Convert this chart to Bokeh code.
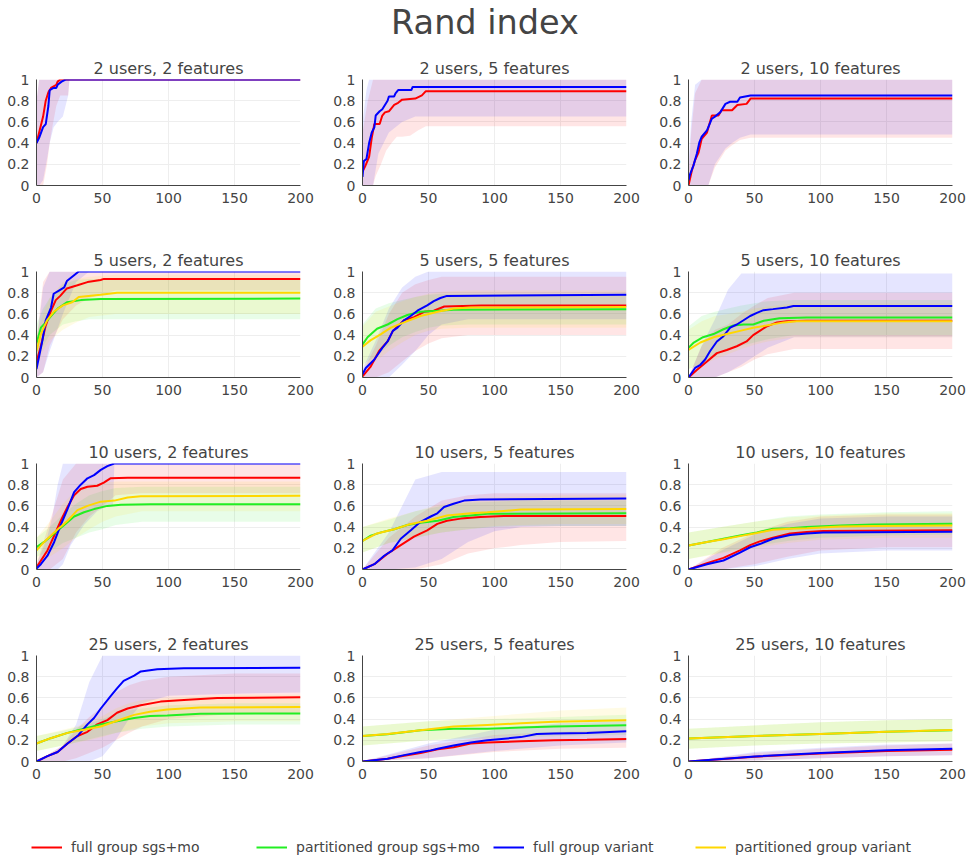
from bokeh.plotting import figure
from bokeh.layouts import column, row
from bokeh.models import Range1d, Legend, LegendItem, FixedTicker, CustomJSTickFormatter
from bokeh.embed import file_html
from bokeh.resources import INLINE
from bokeh.core.properties import value

# ---------------- text / categories ----------------
MAIN_TITLE = "Rand index"
SERIES_NAMES = ["full group sgs+mo", "partitioned group sgs+mo",
                "full group variant", "partitioned group variant"]
SERIES_COLORS = ["#ff0000", "#22ee22", "#0000ff", "#ffd700"]
PANEL_TITLES = ["2 users, 2 features", "2 users, 5 features", "2 users, 10 features",
                "5 users, 2 features", "5 users, 5 features", "5 users, 10 features",
                "10 users, 2 features", "10 users, 5 features", "10 users, 10 features",
                "25 users, 2 features", "25 users, 5 features", "25 users, 10 features"]
X_TICKS = [0, 50, 100, 150, 200]
Y_TICKS = [0, 0.2, 0.4, 0.6, 0.8, 1]

# ---------------- 2 users, 2 features ----------------
u2f2_red_x = [0, 2, 5, 7, 9, 11, 15, 16, 18, 200]
u2f2_red_y = [0.40, 0.50, 0.65, 0.80, 0.88, 0.92, 0.95, 0.98, 1.0, 1.0]
u2f2_red_bx = [0, 2, 5, 8, 10, 12, 15, 18, 22, 24, 25, 200]
u2f2_red_lo = [0.0, 0.0, 0.0, 0.2, 0.4, 0.55, 0.75, 0.85, 0.85, 0.85, 1.0, 1.0]
u2f2_red_hi = [0.8, 1.0, 1.0, 1.0, 1.0, 1.0, 1.0, 1.0, 1.0, 1.0, 1.0, 1.0]
u2f2_blue_x = [0, 2, 5, 7, 9, 10, 13, 15, 16, 19, 22, 200]
u2f2_blue_y = [0.40, 0.45, 0.55, 0.58, 0.75, 0.90, 0.92, 0.92, 0.95, 0.98, 1.0, 1.0]
u2f2_blue_bx = [0, 2, 5, 8, 10, 13, 16, 20, 24, 25, 200]
u2f2_blue_lo = [0.0, 0.0, 0.05, 0.25, 0.4, 0.55, 0.6, 0.65, 0.85, 1.0, 1.0]
u2f2_blue_hi = [0.8, 1.0, 1.0, 1.0, 1.0, 1.0, 1.0, 1.0, 1.0, 1.0, 1.0]

# ---------------- 2 users, 5 features ----------------
u2f5_red_x = [0, 2, 5, 7, 9, 13, 15, 17, 20, 24, 27, 30, 40, 45, 48, 200]
u2f5_red_y = [0.13, 0.18, 0.27, 0.45, 0.58, 0.58, 0.66, 0.69, 0.70, 0.76, 0.78, 0.81, 0.82, 0.85, 0.89, 0.89]
u2f5_red_bx = [0, 4, 8, 10, 14, 18, 22, 26, 30, 36, 42, 48, 50, 200]
u2f5_red_lo = [0.0, 0.0, 0.0, 0.09, 0.2, 0.33, 0.40, 0.46, 0.46, 0.47, 0.52, 0.56, 0.56, 0.56]
u2f5_red_hi = [0.5, 0.8, 1.0, 1.0, 1.0, 1.0, 1.0, 1.0, 1.0, 1.0, 1.0, 1.0, 1.0, 1.0]
u2f5_blue_x = [0, 1, 3, 5, 7, 9, 10, 13, 15, 17, 19, 20, 24, 25, 27, 37, 38, 200]
u2f5_blue_y = [0.08, 0.23, 0.25, 0.40, 0.50, 0.55, 0.66, 0.70, 0.72, 0.76, 0.80, 0.84, 0.84, 0.87, 0.90, 0.90, 0.93, 0.93]
u2f5_blue_bx = [0, 3, 5, 8, 12, 20, 30, 40, 200]
u2f5_blue_lo = [0.0, 0.0, 0.0, 0.0, 0.3, 0.5, 0.6, 0.65, 0.65]
u2f5_blue_hi = [0.6, 0.9, 1.0, 1.0, 1.0, 1.0, 1.0, 1.0, 1.0]

# ---------------- 2 users, 10 features ----------------
u2f10_red_x = [0, 2.5, 5, 7.6, 10, 14, 17.7, 22.7, 25, 33, 37, 44, 47, 200]
u2f10_red_y = [0.0, 0.14, 0.24, 0.31, 0.44, 0.50, 0.66, 0.66, 0.71, 0.71, 0.76, 0.77, 0.82, 0.82]
u2f10_blue_x = [0, 1.3, 3.8, 6.3, 8.3, 10, 14, 17.7, 20, 24, 28, 31.5, 37, 39, 47, 200]
u2f10_blue_y = [0.05, 0.11, 0.19, 0.30, 0.41, 0.46, 0.52, 0.63, 0.65, 0.69, 0.77, 0.79, 0.79, 0.83, 0.85, 0.85]
u2f10_bx = [0, 2, 5, 10, 15, 20, 28, 33, 39, 47, 200]
u2f10_red_lo = [0.0, 0.0, 0.0, 0.0, 0.0, 0.17, 0.33, 0.38, 0.43, 0.45, 0.45]
u2f10_red_hi = [0.1, 0.5, 0.87, 1.0, 1.0, 1.0, 1.0, 1.0, 1.0, 1.0, 1.0]
u2f10_blue_lo = [0.0, 0.0, 0.0, 0.0, 0.0, 0.2, 0.35, 0.40, 0.45, 0.48, 0.48]
u2f10_blue_hi = [0.2, 0.6, 0.95, 1.0, 1.0, 1.0, 1.0, 1.0, 1.0, 1.0, 1.0]

# ---------------- 5 users, 2 features ----------------
u5f2_red_x = [0, 3, 7, 11, 14.6, 18, 23, 31, 38.6, 48.6, 51, 200]
u5f2_red_y = [0.15, 0.28, 0.49, 0.63, 0.73, 0.77, 0.84, 0.87, 0.90, 0.92, 0.93, 0.93]
u5f2_green_x = [0, 3.3, 7, 11, 16, 23, 33.5, 48.6, 200]
u5f2_green_y = [0.32, 0.47, 0.52, 0.58, 0.65, 0.71, 0.73, 0.74, 0.745]
u5f2_blue_x = [0, 4.5, 7, 11, 13, 17, 21, 23, 28, 32, 200]
u5f2_blue_y = [0.08, 0.35, 0.54, 0.66, 0.79, 0.82, 0.85, 0.91, 0.96, 1.0, 1.0]
u5f2_yellow_x = [0, 3.3, 8, 13, 20, 27, 32, 48.6, 61, 200]
u5f2_yellow_y = [0.25, 0.41, 0.54, 0.62, 0.68, 0.71, 0.76, 0.78, 0.80, 0.80]
u5f2_bx = [0, 5, 10, 20, 30, 40, 60, 200]
u5f2_red_lo = [0.0, 0.05, 0.3, 0.55, 0.68, 0.75, 0.82, 0.82]
u5f2_red_hi = [0.35, 0.9, 1.0, 1.0, 1.0, 1.0, 1.0, 1.0]
u5f2_green_lo = [0.15, 0.3, 0.4, 0.5, 0.53, 0.55, 0.55, 0.55]
u5f2_green_hi = [0.5, 0.65, 0.75, 0.88, 0.92, 0.93, 0.93, 0.93]
u5f2_blue_lo = [0.0, 0.05, 0.25, 0.6, 0.9, 1.0, 1.0, 1.0]
u5f2_blue_hi = [0.3, 0.85, 1.0, 1.0, 1.0, 1.0, 1.0, 1.0]
u5f2_yellow_lo = [0.1, 0.25, 0.35, 0.45, 0.52, 0.57, 0.6, 0.6]
u5f2_yellow_hi = [0.4, 0.6, 0.75, 0.9, 0.93, 0.95, 0.97, 0.97]

# ---------------- 5 users, 5 features ----------------
u5f5_red_x = [0, 6, 12.6, 19, 23, 31.5, 39, 46.7, 54, 62, 90, 200]
u5f5_red_y = [0.01, 0.10, 0.25, 0.34, 0.44, 0.54, 0.57, 0.62, 0.63, 0.67, 0.68, 0.68]
u5f5_green_x = [0, 3.8, 11, 19, 26.5, 34, 44, 57, 69, 200]
u5f5_green_y = [0.31, 0.38, 0.46, 0.50, 0.55, 0.59, 0.62, 0.63, 0.64, 0.645]
u5f5_blue_x = [0, 2.5, 9, 15, 19, 23, 26.5, 31.5, 36.5, 41.6, 49, 54, 59, 64, 200]
u5f5_blue_y = [0.03, 0.09, 0.17, 0.28, 0.34, 0.44, 0.47, 0.54, 0.58, 0.63, 0.68, 0.72, 0.75, 0.77, 0.78]
u5f5_yellow_x = [0, 6, 14, 21.5, 31.5, 44, 57, 69, 82, 200]
u5f5_yellow_y = [0.29, 0.35, 0.41, 0.47, 0.52, 0.58, 0.62, 0.65, 0.66, 0.665]
u5f5_bx = [0, 10, 20, 30, 40, 50, 60, 80, 200]
u5f5_red_lo = [0.0, 0.0, 0.05, 0.15, 0.25, 0.32, 0.37, 0.40, 0.40]
u5f5_red_hi = [0.05, 0.3, 0.6, 0.8, 0.88, 0.92, 0.95, 0.95, 0.95]
u5f5_green_lo = [0.12, 0.2, 0.3, 0.38, 0.43, 0.47, 0.49, 0.5, 0.5]
u5f5_green_hi = [0.5, 0.65, 0.7, 0.73, 0.76, 0.78, 0.79, 0.79, 0.79]
u5f5_blue_lo = [0.0, 0.0, 0.0, 0.12, 0.25, 0.4, 0.5, 0.55, 0.55]
u5f5_blue_hi = [0.08, 0.35, 0.65, 0.85, 0.95, 1.0, 1.0, 1.0, 1.0]
u5f5_yellow_lo = [0.1, 0.15, 0.25, 0.33, 0.4, 0.44, 0.46, 0.47, 0.47]
u5f5_yellow_hi = [0.48, 0.62, 0.67, 0.72, 0.76, 0.79, 0.81, 0.82, 0.82]

# ---------------- 5 users, 10 features ----------------
u5f10_red_x = [0, 6.3, 14, 21.5, 29, 36.6, 44, 49, 54, 59, 67, 74.5, 89.6, 200]
u5f10_red_y = [0.0, 0.07, 0.15, 0.23, 0.26, 0.295, 0.34, 0.40, 0.44, 0.48, 0.52, 0.53, 0.535, 0.535]
u5f10_green_x = [0, 4, 11, 19, 26.5, 34, 41.7, 49, 57, 69, 89.6, 200]
u5f10_green_y = [0.28, 0.33, 0.38, 0.41, 0.455, 0.49, 0.50, 0.50, 0.535, 0.56, 0.565, 0.565]
u5f10_blue_x = [0, 5, 9, 12.6, 16.4, 21.5, 26.5, 31.6, 36.6, 41.7, 46.7, 51.8, 56.8, 64, 74.5, 79.5, 200]
u5f10_blue_y = [0.0, 0.09, 0.12, 0.17, 0.25, 0.34, 0.39, 0.47, 0.50, 0.54, 0.58, 0.61, 0.635, 0.645, 0.66, 0.675, 0.675]
u5f10_yellow_x = [0, 9, 19, 29, 39, 49, 59, 72, 82, 200]
u5f10_yellow_y = [0.26, 0.33, 0.38, 0.41, 0.44, 0.47, 0.49, 0.52, 0.53, 0.53]
u5f10_bx = [0, 10, 20, 30, 40, 50, 60, 80, 200]
u5f10_red_lo = [0.0, 0.0, 0.0, 0.05, 0.1, 0.17, 0.22, 0.27, 0.27]
u5f10_red_hi = [0.0, 0.3, 0.45, 0.5, 0.6, 0.68, 0.75, 0.8, 0.8]
u5f10_green_lo = [0.08, 0.13, 0.2, 0.26, 0.3, 0.33, 0.36, 0.4, 0.4]
u5f10_green_hi = [0.48, 0.58, 0.62, 0.65, 0.68, 0.7, 0.72, 0.73, 0.73]
u5f10_blue_lo = [0.0, 0.0, 0.0, 0.05, 0.12, 0.2, 0.28, 0.38, 0.38]
u5f10_blue_hi = [0.0, 0.3, 0.55, 0.83, 0.98, 0.98, 0.98, 0.98, 0.98]
u5f10_yellow_lo = [0.08, 0.12, 0.17, 0.22, 0.27, 0.31, 0.34, 0.38, 0.38]
u5f10_yellow_hi = [0.45, 0.53, 0.58, 0.6, 0.62, 0.65, 0.67, 0.7, 0.7]

# ---------------- 10 users, 2 features ----------------
u10f2_red_x = [0, 8.3, 13.4, 18.4, 23.5, 28.5, 33.5, 38.6, 46, 51, 56, 69, 200]
u10f2_red_y = [0.02, 0.18, 0.32, 0.46, 0.59, 0.70, 0.76, 0.78, 0.79, 0.82, 0.86, 0.865, 0.865]
u10f2_green_x = [0, 5.8, 13.4, 21, 28.5, 36, 43.6, 53.7, 64, 86.5, 200]
u10f2_green_y = [0.21, 0.26, 0.34, 0.42, 0.50, 0.54, 0.57, 0.60, 0.61, 0.615, 0.615]
u10f2_blue_x = [0, 3.3, 8.3, 13.4, 18.4, 23.5, 28.5, 33.5, 38.6, 43.6, 48.7, 53.7, 58.8, 200]
u10f2_blue_y = [0.01, 0.05, 0.13, 0.26, 0.42, 0.57, 0.73, 0.80, 0.86, 0.89, 0.94, 0.975, 1.0, 1.0]
u10f2_yellow_x = [0, 5.8, 13.4, 23.5, 31, 38.6, 48.7, 59, 69, 79, 200]
u10f2_yellow_y = [0.18, 0.26, 0.35, 0.46, 0.56, 0.60, 0.64, 0.65, 0.68, 0.69, 0.695]
u10f2_blue_bx = [0, 8, 12, 16, 20, 26, 36, 46, 54, 58, 59, 200]
u10f2_blue_lo = [0.0, 0.0, 0.0, 0.0, 0.05, 0.23, 0.42, 0.55, 0.6, 0.6, 1.0, 1.0]
u10f2_blue_hi = [0.05, 0.3, 0.5, 0.8, 1.0, 1.0, 1.0, 1.0, 1.0, 1.0, 1.0, 1.0]
u10f2_bx = [0, 10, 20, 30, 40, 50, 60, 80, 200]
u10f2_red_lo = [0.0, 0.0, 0.1, 0.35, 0.5, 0.6, 0.7, 0.72, 0.72]
u10f2_red_hi = [0.05, 0.45, 0.85, 1.0, 1.0, 1.0, 1.0, 1.0, 1.0]
u10f2_green_lo = [0.12, 0.17, 0.25, 0.3, 0.35, 0.38, 0.42, 0.45, 0.45]
u10f2_green_hi = [0.3, 0.4, 0.52, 0.62, 0.7, 0.74, 0.77, 0.78, 0.78]
u10f2_yellow_lo = [0.08, 0.12, 0.2, 0.3, 0.38, 0.45, 0.5, 0.55, 0.55]
u10f2_yellow_hi = [0.3, 0.45, 0.62, 0.75, 0.8, 0.82, 0.83, 0.83, 0.83]

# ---------------- 10 users, 5 features ----------------
u10f5_red_x = [0, 9, 19, 29, 39, 49, 56.7, 64, 74.4, 89.5, 107, 200]
u10f5_red_y = [0.0, 0.05, 0.15, 0.23, 0.31, 0.37, 0.43, 0.46, 0.48, 0.495, 0.505, 0.505]
u10f5_green_x = [0, 6.3, 14, 24, 34, 44, 57, 69, 82, 94.6, 200]
u10f5_green_y = [0.27, 0.32, 0.35, 0.38, 0.42, 0.44, 0.46, 0.495, 0.51, 0.525, 0.53]
u10f5_blue_x = [0, 9, 16.4, 22.7, 29, 36.6, 44, 51.7, 56.7, 61.8, 69, 77, 89.5, 200]
u10f5_blue_y = [0.0, 0.05, 0.13, 0.18, 0.29, 0.37, 0.45, 0.50, 0.53, 0.59, 0.62, 0.65, 0.66, 0.67]
u10f5_yellow_x = [0, 11, 24, 36.6, 49, 64, 82, 94.6, 120, 200]
u10f5_yellow_y = [0.27, 0.34, 0.38, 0.43, 0.46, 0.51, 0.53, 0.54, 0.565, 0.57]
u10f5_bx = [0, 20, 40, 60, 80, 100, 120, 150, 200]
u10f5_red_lo = [0.0, 0.0, 0.0, 0.05, 0.15, 0.2, 0.23, 0.26, 0.27]
u10f5_red_hi = [0.0, 0.3, 0.5, 0.65, 0.7, 0.72, 0.72, 0.72, 0.72]
u10f5_green_lo = [0.16, 0.25, 0.3, 0.35, 0.38, 0.4, 0.41, 0.41, 0.41]
u10f5_green_hi = [0.4, 0.47, 0.55, 0.6, 0.63, 0.64, 0.65, 0.65, 0.65]
u10f5_blue_lo = [0.0, 0.0, 0.02, 0.1, 0.26, 0.36, 0.4, 0.41, 0.41]
u10f5_blue_hi = [0.0, 0.35, 0.85, 0.92, 0.92, 0.92, 0.92, 0.92, 0.92]
u10f5_yellow_lo = [0.16, 0.25, 0.3, 0.35, 0.38, 0.41, 0.42, 0.43, 0.43]
u10f5_yellow_hi = [0.4, 0.48, 0.55, 0.62, 0.66, 0.68, 0.69, 0.7, 0.7]

# ---------------- 10 users, 10 features ----------------
u10f10_x = [0, 14, 26.5, 39, 46.7, 54, 64, 77, 89.6, 102, 200]
u10f10_red_y = [0.0, 0.06, 0.11, 0.18, 0.23, 0.265, 0.30, 0.34, 0.353, 0.363, 0.37]
u10f10_blue_y = [0.0, 0.05, 0.085, 0.16, 0.21, 0.24, 0.29, 0.325, 0.34, 0.35, 0.355]
u10f10_py_x = [0, 14, 26.5, 39, 51.8, 64, 77, 89.6, 115, 140, 200]
u10f10_green_y = [0.227, 0.26, 0.29, 0.32, 0.35, 0.385, 0.39, 0.40, 0.415, 0.425, 0.432]
u10f10_yellow_y = [0.227, 0.26, 0.285, 0.315, 0.345, 0.375, 0.385, 0.39, 0.405, 0.41, 0.416]
u10f10_bx = [0, 25, 50, 75, 100, 150, 200]
u10f10_red_lo = [0.0, 0.0, 0.05, 0.12, 0.18, 0.21, 0.21]
u10f10_red_hi = [0.0, 0.2, 0.35, 0.45, 0.5, 0.52, 0.52]
u10f10_green_lo = [0.1, 0.16, 0.22, 0.27, 0.3, 0.32, 0.33]
u10f10_green_hi = [0.35, 0.4, 0.45, 0.5, 0.52, 0.54, 0.55]
u10f10_blue_lo = [0.0, 0.0, 0.03, 0.1, 0.15, 0.18, 0.18]
u10f10_blue_hi = [0.0, 0.18, 0.33, 0.43, 0.48, 0.5, 0.5]
u10f10_yellow_lo = [0.1, 0.15, 0.2, 0.25, 0.28, 0.3, 0.3]
u10f10_yellow_hi = [0.35, 0.4, 0.45, 0.49, 0.51, 0.53, 0.53]

# ---------------- 25 users, 2 features ----------------
u25f2_red_x = [0, 8.3, 16, 23.5, 31, 38.6, 46, 53.7, 61, 69, 79, 94, 111.7, 137, 200]
u25f2_red_y = [0.0, 0.05, 0.09, 0.17, 0.24, 0.28, 0.35, 0.39, 0.46, 0.50, 0.53, 0.565, 0.58, 0.60, 0.605]
u25f2_blue_x = [0, 8.3, 16, 23.5, 31, 38.6, 43.6, 48.7, 56, 61, 66, 74, 79, 91.5, 111.7, 200]
u25f2_blue_y = [0.0, 0.05, 0.09, 0.17, 0.24, 0.35, 0.41, 0.50, 0.615, 0.69, 0.76, 0.81, 0.85, 0.87, 0.88, 0.885]
u25f2_py_x = [0, 10.8, 23.5, 36, 48.7, 61, 74, 86, 99, 124, 200]
u25f2_green_y = [0.17, 0.22, 0.27, 0.31, 0.35, 0.38, 0.41, 0.43, 0.435, 0.45, 0.454]
u25f2_yellow_y = [0.17, 0.22, 0.27, 0.30, 0.33, 0.385, 0.44, 0.47, 0.49, 0.51, 0.515]
u25f2_bx = [0, 20, 30, 40, 50, 60, 70, 80, 100, 150, 200]
u25f2_red_lo = [0.0, 0.0, 0.03, 0.08, 0.13, 0.2, 0.27, 0.33, 0.4, 0.45, 0.46]
u25f2_red_hi = [0.0, 0.15, 0.3, 0.42, 0.52, 0.65, 0.72, 0.76, 0.8, 0.83, 0.83]
u25f2_green_lo = [0.1, 0.15, 0.18, 0.21, 0.24, 0.27, 0.29, 0.31, 0.33, 0.35, 0.35]
u25f2_green_hi = [0.24, 0.29, 0.32, 0.36, 0.4, 0.45, 0.48, 0.5, 0.53, 0.55, 0.55]
u25f2_blue_lo = [0.0, 0.0, 0.0, 0.0, 0.05, 0.2, 0.4, 0.55, 0.62, 0.64, 0.65]
u25f2_blue_hi = [0.0, 0.15, 0.35, 0.75, 1.0, 1.0, 1.0, 1.0, 1.0, 1.0, 1.0]
u25f2_yellow_lo = [0.1, 0.15, 0.18, 0.2, 0.23, 0.27, 0.3, 0.33, 0.36, 0.38, 0.38]
u25f2_yellow_hi = [0.24, 0.3, 0.33, 0.38, 0.43, 0.5, 0.55, 0.58, 0.6, 0.63, 0.63]

# ---------------- 25 users, 5 features ----------------
u25f5_red_x = [0, 19, 31.5, 44, 57, 69, 82, 94.6, 120, 145, 170, 200]
u25f5_red_y = [0.0, 0.025, 0.055, 0.08, 0.115, 0.135, 0.17, 0.18, 0.19, 0.20, 0.205, 0.213]
u25f5_blue_x = [0, 19, 31.5, 44, 51.7, 57, 69, 82, 94.6, 120, 132, 145, 170, 200]
u25f5_blue_y = [0.0, 0.025, 0.06, 0.09, 0.105, 0.12, 0.15, 0.18, 0.20, 0.23, 0.26, 0.265, 0.27, 0.286]
u25f5_py_x = [0, 19, 44, 69, 94.6, 120, 145, 200]
u25f5_green_y = [0.24, 0.257, 0.295, 0.31, 0.31, 0.32, 0.33, 0.343]
u25f5_yellow_y = [0.24, 0.26, 0.295, 0.33, 0.345, 0.36, 0.375, 0.39]
u25f5_bx = [0, 50, 100, 150, 200]
u25f5_red_lo = [0.0, 0.03, 0.09, 0.12, 0.13]
u25f5_red_hi = [0.0, 0.15, 0.25, 0.28, 0.3]
u25f5_green_lo = [0.15, 0.2, 0.22, 0.24, 0.25]
u25f5_green_hi = [0.33, 0.38, 0.4, 0.42, 0.44]
u25f5_blue_lo = [0.0, 0.03, 0.1, 0.15, 0.18]
u25f5_blue_hi = [0.0, 0.17, 0.3, 0.36, 0.38]
u25f5_yellow_lo = [0.15, 0.2, 0.24, 0.27, 0.28]
u25f5_yellow_hi = [0.33, 0.38, 0.43, 0.48, 0.51]

# ---------------- 25 users, 10 features ----------------
u25f10_x = [0, 50, 100, 150, 200]
u25f10_red_y = [0.0, 0.045, 0.075, 0.1, 0.11]
u25f10_green_y = [0.216, 0.24, 0.26, 0.28, 0.295]
u25f10_blue_y = [0.0, 0.048, 0.08, 0.105, 0.12]
u25f10_yellow_y = [0.216, 0.24, 0.26, 0.28, 0.297]
u25f10_red_lo = [0.0, 0.01, 0.03, 0.05, 0.06]
u25f10_red_hi = [0.0, 0.08, 0.12, 0.15, 0.17]
u25f10_green_lo = [0.12, 0.15, 0.17, 0.18, 0.19]
u25f10_green_hi = [0.31, 0.34, 0.37, 0.39, 0.4]
u25f10_blue_lo = [0.0, 0.01, 0.03, 0.05, 0.06]
u25f10_blue_hi = [0.0, 0.09, 0.13, 0.16, 0.17]
u25f10_yellow_lo = [0.12, 0.15, 0.17, 0.18, 0.19]
u25f10_yellow_hi = [0.31, 0.34, 0.37, 0.39, 0.4]

# series index: 0 red, 1 green, 2 blue, 3 yellow -> (x, y, band_x, lower, upper)
PANELS = [
    {0: (u2f2_red_x, u2f2_red_y, u2f2_red_bx, u2f2_red_lo, u2f2_red_hi),
     2: (u2f2_blue_x, u2f2_blue_y, u2f2_blue_bx, u2f2_blue_lo, u2f2_blue_hi)},
    {0: (u2f5_red_x, u2f5_red_y, u2f5_red_bx, u2f5_red_lo, u2f5_red_hi),
     2: (u2f5_blue_x, u2f5_blue_y, u2f5_blue_bx, u2f5_blue_lo, u2f5_blue_hi)},
    {0: (u2f10_red_x, u2f10_red_y, u2f10_bx, u2f10_red_lo, u2f10_red_hi),
     2: (u2f10_blue_x, u2f10_blue_y, u2f10_bx, u2f10_blue_lo, u2f10_blue_hi)},
    {0: (u5f2_red_x, u5f2_red_y, u5f2_bx, u5f2_red_lo, u5f2_red_hi),
     1: (u5f2_green_x, u5f2_green_y, u5f2_bx, u5f2_green_lo, u5f2_green_hi),
     2: (u5f2_blue_x, u5f2_blue_y, u5f2_bx, u5f2_blue_lo, u5f2_blue_hi),
     3: (u5f2_yellow_x, u5f2_yellow_y, u5f2_bx, u5f2_yellow_lo, u5f2_yellow_hi)},
    {0: (u5f5_red_x, u5f5_red_y, u5f5_bx, u5f5_red_lo, u5f5_red_hi),
     1: (u5f5_green_x, u5f5_green_y, u5f5_bx, u5f5_green_lo, u5f5_green_hi),
     2: (u5f5_blue_x, u5f5_blue_y, u5f5_bx, u5f5_blue_lo, u5f5_blue_hi),
     3: (u5f5_yellow_x, u5f5_yellow_y, u5f5_bx, u5f5_yellow_lo, u5f5_yellow_hi)},
    {0: (u5f10_red_x, u5f10_red_y, u5f10_bx, u5f10_red_lo, u5f10_red_hi),
     1: (u5f10_green_x, u5f10_green_y, u5f10_bx, u5f10_green_lo, u5f10_green_hi),
     2: (u5f10_blue_x, u5f10_blue_y, u5f10_bx, u5f10_blue_lo, u5f10_blue_hi),
     3: (u5f10_yellow_x, u5f10_yellow_y, u5f10_bx, u5f10_yellow_lo, u5f10_yellow_hi)},
    {0: (u10f2_red_x, u10f2_red_y, u10f2_bx, u10f2_red_lo, u10f2_red_hi),
     1: (u10f2_green_x, u10f2_green_y, u10f2_bx, u10f2_green_lo, u10f2_green_hi),
     2: (u10f2_blue_x, u10f2_blue_y, u10f2_blue_bx, u10f2_blue_lo, u10f2_blue_hi),
     3: (u10f2_yellow_x, u10f2_yellow_y, u10f2_bx, u10f2_yellow_lo, u10f2_yellow_hi)},
    {0: (u10f5_red_x, u10f5_red_y, u10f5_bx, u10f5_red_lo, u10f5_red_hi),
     1: (u10f5_green_x, u10f5_green_y, u10f5_bx, u10f5_green_lo, u10f5_green_hi),
     2: (u10f5_blue_x, u10f5_blue_y, u10f5_bx, u10f5_blue_lo, u10f5_blue_hi),
     3: (u10f5_yellow_x, u10f5_yellow_y, u10f5_bx, u10f5_yellow_lo, u10f5_yellow_hi)},
    {0: (u10f10_x, u10f10_red_y, u10f10_bx, u10f10_red_lo, u10f10_red_hi),
     1: (u10f10_py_x, u10f10_green_y, u10f10_bx, u10f10_green_lo, u10f10_green_hi),
     2: (u10f10_x, u10f10_blue_y, u10f10_bx, u10f10_blue_lo, u10f10_blue_hi),
     3: (u10f10_py_x, u10f10_yellow_y, u10f10_bx, u10f10_yellow_lo, u10f10_yellow_hi)},
    {0: (u25f2_red_x, u25f2_red_y, u25f2_bx, u25f2_red_lo, u25f2_red_hi),
     1: (u25f2_py_x, u25f2_green_y, u25f2_bx, u25f2_green_lo, u25f2_green_hi),
     2: (u25f2_blue_x, u25f2_blue_y, u25f2_bx, u25f2_blue_lo, u25f2_blue_hi),
     3: (u25f2_py_x, u25f2_yellow_y, u25f2_bx, u25f2_yellow_lo, u25f2_yellow_hi)},
    {0: (u25f5_red_x, u25f5_red_y, u25f5_bx, u25f5_red_lo, u25f5_red_hi),
     1: (u25f5_py_x, u25f5_green_y, u25f5_bx, u25f5_green_lo, u25f5_green_hi),
     2: (u25f5_blue_x, u25f5_blue_y, u25f5_bx, u25f5_blue_lo, u25f5_blue_hi),
     3: (u25f5_py_x, u25f5_yellow_y, u25f5_bx, u25f5_yellow_lo, u25f5_yellow_hi)},
    {0: (u25f10_x, u25f10_red_y, u25f10_x, u25f10_red_lo, u25f10_red_hi),
     1: (u25f10_x, u25f10_green_y, u25f10_x, u25f10_green_lo, u25f10_green_hi),
     2: (u25f10_x, u25f10_blue_y, u25f10_x, u25f10_blue_lo, u25f10_blue_hi),
     3: (u25f10_x, u25f10_yellow_y, u25f10_x, u25f10_yellow_lo, u25f10_yellow_hi)},
]

FONT = "DejaVu Sans"
TEXT_COLOR = "#444444"
GRID_COLOR = "#eeeeee"
LEGEND_X = [31, 256, 493, 695]   # screen x of each legend key


def style_axis(ax):
    ax.major_tick_line_color = None
    ax.minor_tick_line_color = None
    ax.axis_line_color = "#444444"
    ax.axis_line_width = 1
    ax.major_label_text_font = FONT
    ax.major_label_text_font_size = "14px"
    ax.major_label_text_color = TEXT_COLOR
    ax.major_label_standoff = 1


def make_panel(i):
    col = i % 3
    r = i // 3
    w = 326 if col < 2 else 317
    right = 26 if col < 2 else 17
    h = 192 if r < 3 else 160
    p = figure(width=w, height=h, x_range=Range1d(0, 200), y_range=Range1d(0, 1),
               output_backend="svg", toolbar_location=None,
               min_border_left=36, min_border_right=right, min_border_top=29,
               min_border_bottom=h - 29 - 106, title=PANEL_TITLES[i])
    p.title.align = "center"
    p.title.text_font = FONT
    p.title.text_font_size = "16px"
    p.title.text_font_style = "normal"
    p.title.text_color = TEXT_COLOR
    p.title.standoff = 3
    p.outline_line_color = None
    p.xaxis.ticker = FixedTicker(ticks=X_TICKS)
    p.yaxis.ticker = FixedTicker(ticks=Y_TICKS)
    p.yaxis.formatter = CustomJSTickFormatter(code="return String(Math.round(tick*10)/10)")
    style_axis(p.xaxis[0])
    style_axis(p.yaxis[0])
    p.xgrid.grid_line_color = GRID_COLOR
    p.ygrid.grid_line_color = GRID_COLOR
    series = PANELS[i]
    for k in sorted(series):
        x, y, bx, lo, hi = series[k]
        p.varea(x=bx, y1=lo, y2=hi, fill_color=SERIES_COLORS[k], fill_alpha=0.1)
    for k in sorted(series):
        x, y, bx, lo, hi = series[k]
        p.line(x=x, y=y, line_color=SERIES_COLORS[k], line_width=2)
    return p


# title
tp = figure(width=969, height=50, x_range=Range1d(0, 1), y_range=Range1d(0, 50),
            output_backend="svg", toolbar_location=None, min_border=0,
            x_axis_location=None, y_axis_location=None)
tp.outline_line_color = None
tp.grid.visible = False
tp.text(x=[0.5], y=[28], text=[MAIN_TITLE], text_align="center", text_baseline="middle",
        text_font=value(FONT), text_font_size="33.5px", text_color=TEXT_COLOR)

panels = [make_panel(i) for i in range(12)]
rows = [row(panels[3 * r:3 * r + 3], spacing=0) for r in range(4)]

# legend (its sample lines sit outside the visible range; only the legend keys show)
lp = figure(width=969, height=73, x_range=Range1d(0, 1), y_range=Range1d(0, 1),
            output_backend="svg", toolbar_location=None, min_border=0,
            x_axis_location=None, y_axis_location=None)
lp.outline_line_color = None
lp.grid.visible = False
for k, name in enumerate(SERIES_NAMES):
    rr = lp.line(x=[-2, -1], y=[-2, -1], line_color=SERIES_COLORS[k], line_width=2)
    leg = Legend(items=[LegendItem(label=name, renderers=[rr])], orientation="horizontal",
                 location=(LEGEND_X[k], 2), padding=0, margin=0, label_standoff=9,
                 glyph_width=31, glyph_height=20, label_height=20,
                 label_text_font=FONT, label_text_font_size="14px",
                 label_text_color=TEXT_COLOR,
                 border_line_color=None, background_fill_alpha=0)
    lp.add_layout(leg, "center")

layout = column([tp] + rows + [lp], spacing=0)

open("out.html", "w").write(file_html(layout, INLINE))
